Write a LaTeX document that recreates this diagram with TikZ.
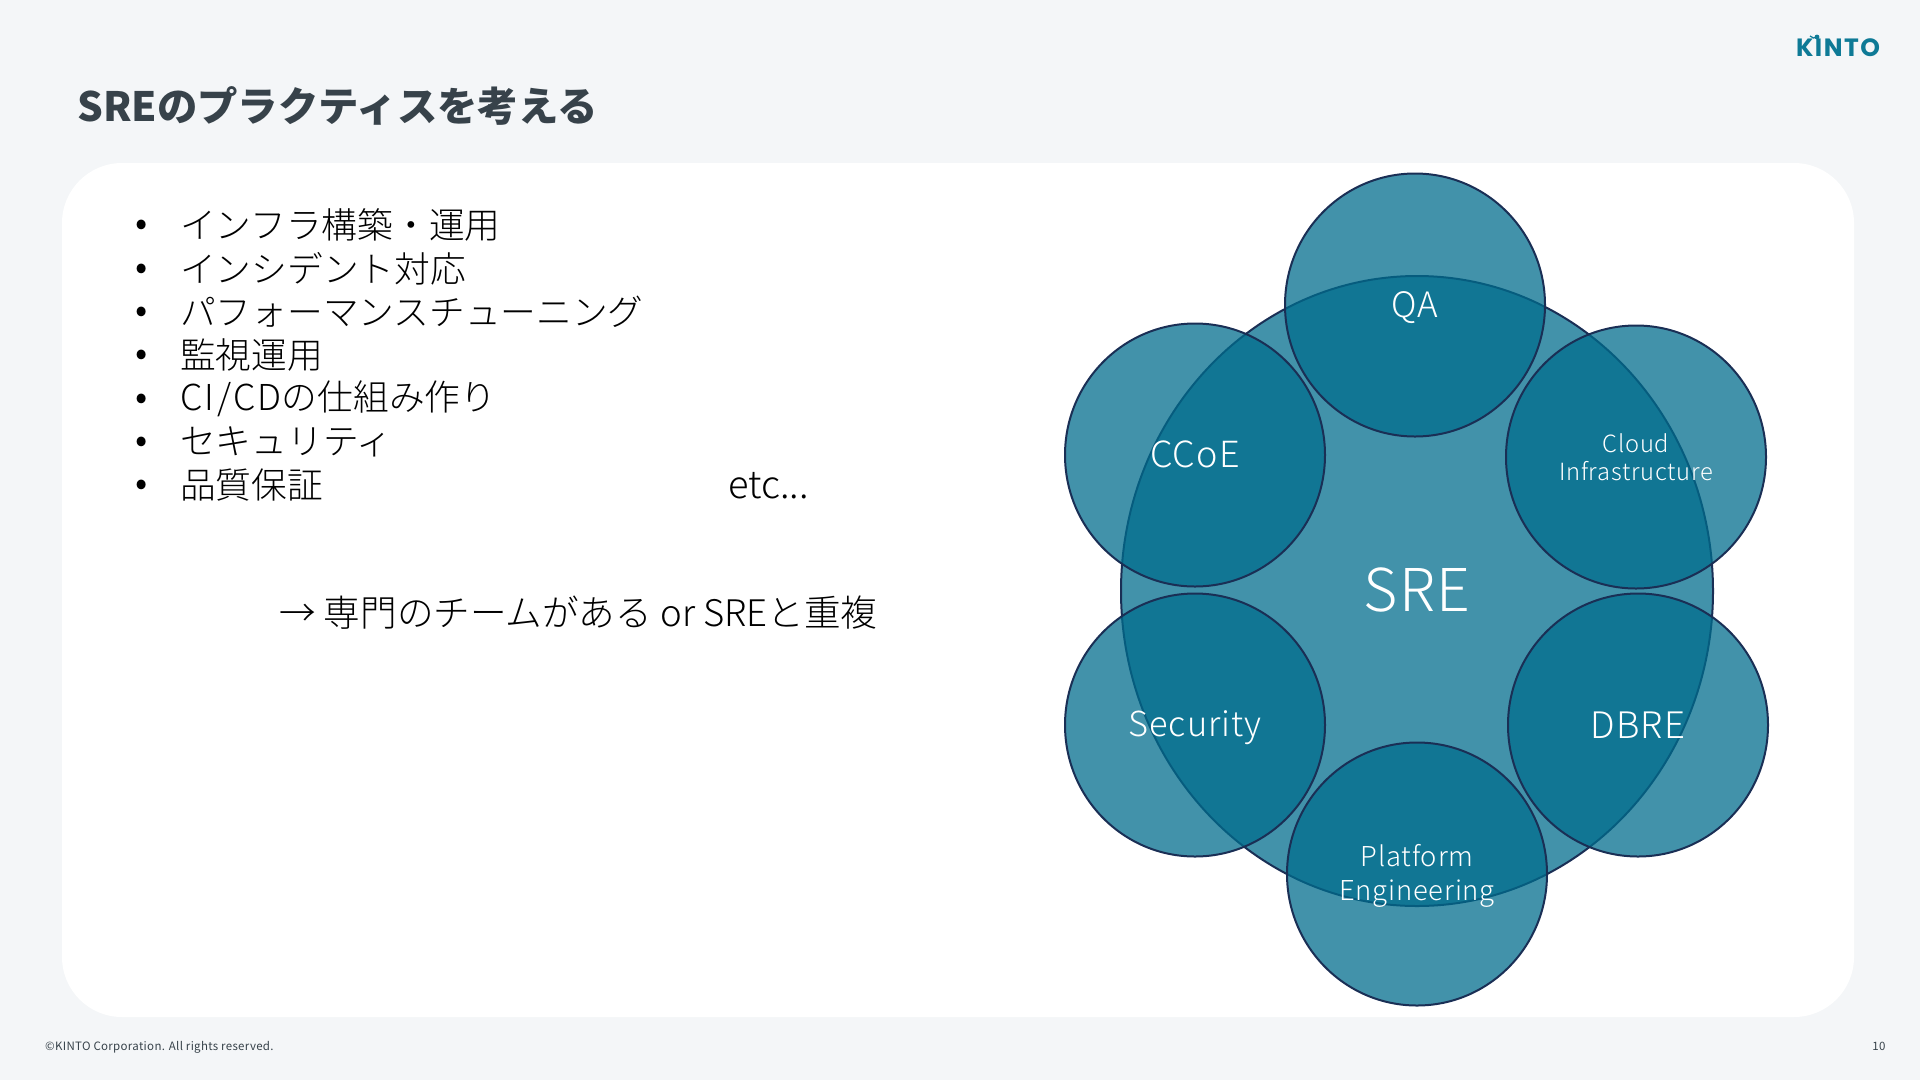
\documentclass[tikz,border=0pt]{standalone}
\usepackage{fontspec}
\usepackage{tikz}
\usetikzlibrary{shapes.geometric}

\setmainfont{Noto Sans CJK JP}
\newfontfamily\bodyfont{Noto Sans CJK JP Light}
\newfontfamily\widefont[LetterSpace=6.7]{Noto Sans CJK JP Light}
\newfontfamily\circfont[LetterSpace=3]{Noto Sans CJK JP Light}
\newfontfamily\footfont[LetterSpace=2.8]{Noto Sans CJK JP}
\newfontfamily\logofont[LetterSpace=6]{Poppins}

\definecolor{pagebg}{HTML}{F4F6F8}
\definecolor{inktext}{HTML}{37424A}
\definecolor{teal}{HTML}{006D8D}
\definecolor{logoteal}{HTML}{0E7A96}
\definecolor{circline}{HTML}{1A2F55}

\tikzset{
  circ/.style={ellipse, draw=circline, line width=2pt, fill=teal, fill opacity=.74,
    text opacity=1, text=white, inner sep=0pt, outer sep=0pt, align=center,
    minimum width=260pt, minimum height=263pt, font=\circfont},
  item/.style={anchor=west, inner sep=0pt, text=black,
    font=\bodyfont\fontsize{35.7}{43}\selectfont,
    label={[font=\fontsize{36}{36}\selectfont, xshift=-32pt, yshift=-3pt, inner sep=0pt]left:•}},
  plain/.style={anchor=west, inner sep=0pt, text=black,
    font=\bodyfont\fontsize{36.6}{43}\selectfont},
}

\begin{document}
\begin{tikzpicture}[x=1pt,y=-1pt]
  \useasboundingbox (0,0) rectangle (1920,1080);
  \fill[pagebg] (0,0) rectangle (1920,1080);

  \node[fill=white, rounded corners=60pt, minimum width=1792pt, minimum height=854pt,
    inner sep=0pt, outer sep=0pt] (card) at (958,590) {};

  \node[anchor=west, inner sep=0pt, text=inktext,
    font=\bfseries\fontsize{40.4}{48}\selectfont] (title) at (77,106) {SREのプラクティスを考える};

  \node[inner sep=0pt, text=logoteal, font=\logofont\bfseries\fontsize{25}{25}\selectfont] (logo) at (1838,48) {KINTO};
  \fill[logoteal] (1817,37) circle (2.4);
  \draw[logoteal, line width=1.2pt] (1817,37) .. controls (1815,39) and (1812,38) .. (1810,36);

  \node[item] (infra) at (180,225) {インフラ構築・運用};
  \node[item] (incident) at (180,269) {インシデント対応};
  \node[item] (perf) at (180,312) {パフォーマンスチューニング};
  \node[item] (monitor) at (180,355) {監視運用};
  \node[item] (cicd) at (180,399) {{\widefont CI/CD}の仕組み作り};
  \node[item] (security) at (180,442) {セキュリティ};
  \node[item] (quality) at (180,485) {品質保証};
  \node[plain, font=\bodyfont\fontsize{38}{43}\selectfont] (etc) at (728,486) {etc...};
  \node[plain] (result) at (279,613) {→ 専門のチームがある or SREと重複};

  % big one first, the small ones lie over it
  \node[circ, minimum width=592pt, minimum height=630pt, text depth=3pt,
    font=\circfont\fontsize{59}{60}\selectfont] (sre) at (1417,591) {SRE};

  \node[circ, text height=25pt, text depth=0pt, font=\circfont\fontsize{35}{40}\selectfont] (qa) at (1415,305) {QA};
  \node[circ, text depth=2pt, font=\circfont\fontsize{36}{40}\selectfont] (ccoe) at (1195,455) {CCoE};
  \node[circ, font=\circfont\fontsize{23.7}{28}\selectfont] (cloud) at (1636,457) {Cloud\\Infrastructure};
  \node[circ, text depth=2pt, font=\circfont\fontsize{34.4}{40}\selectfont] (sec) at (1195,725) {Security};
  \node[circ, font=\circfont\fontsize{36.5}{40}\selectfont] (dbre) at (1638,725) {DBRE};
  \node[circ, text depth=3pt, font=\circfont\fontsize{27.4}{34}\selectfont] (platform) at (1417,874) {Platform\\Engineering};

  \node[anchor=west, inner sep=0pt, text=inktext, font=\footfont\fontsize{11.5}{14}\selectfont] (copy) at (45,1047) {©KINTO Corporation. All rights reserved.};
  \node[inner sep=0pt, text=inktext, font=\footfont\fontsize{11.5}{14}\selectfont] (pageno) at (1879,1046) {10};
\end{tikzpicture}
\end{document}
